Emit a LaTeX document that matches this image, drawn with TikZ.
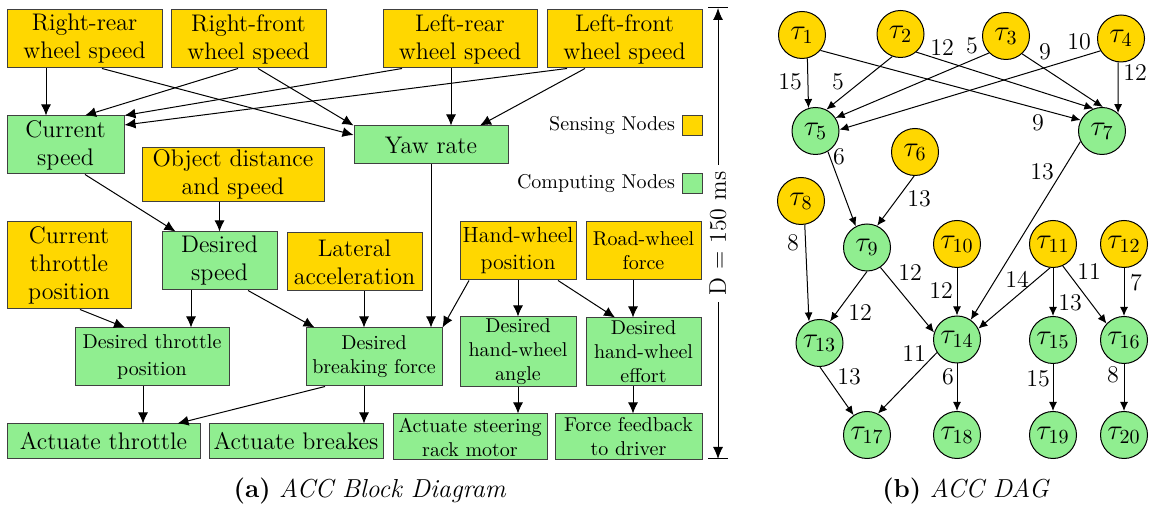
\documentclass[tikz,border=0pt]{standalone}
\usetikzlibrary{arrows.meta}
\definecolor{sensecol}{RGB}{255,215,0}
\definecolor{compcol}{RGB}{144,238,144}
\tikzset{
  blk/.style={draw=black!75,line width=0.5pt,align=center,inner sep=1pt,font=\large},
  sense/.style={blk,fill=sensecol},
  comp/.style={blk,fill=compcol},
  sm/.style={font=\normalsize},
  arr/.style={-{Latex[length=5.5pt,width=5pt]},line width=0.5pt},
  task/.style={circle,draw,line width=0.5pt,minimum size=23.5pt,inner sep=0pt,font=\Large},
  darr/.style={-{Latex[length=4.5pt,width=4pt]},line width=0.5pt},
  wlab/.style={font=\large,inner sep=0pt},
}
\begin{document}
\begin{tikzpicture}[x=0.5pt,y=-0.5pt]
\useasboundingbox (0,0) rectangle (1149,506);
% (a) block diagram
\node[sense,minimum width=77.5pt,minimum height=29pt] (rr) at (84.5,39) {Right-rear\\wheel speed};
\node[sense,minimum width=77.5pt,minimum height=29pt] (rf) at (248.5,39) {Right-front\\wheel speed};
\node[sense,minimum width=77pt,minimum height=29pt] (lr) at (460,39) {Left-rear\\wheel speed};
\node[sense,minimum width=77.5pt,minimum height=29pt] (lf) at (624.5,39) {Left-front\\wheel speed};
\node[comp,minimum width=58.5pt,minimum height=29pt] (cs) at (65.5,145) {Current\\speed};
\node[comp,minimum width=77pt,minimum height=19pt] (yaw) at (431,145) {Yaw rate};
\node[sense,minimum width=91pt,minimum height=26.5pt] (obj) at (233,174.5) {Object distance\\and speed};
\node[sense,minimum width=62pt,minimum height=43.5pt] (ctp) at (69,265.5) {Current\\throttle\\position};
\node[comp,minimum width=57.5pt,minimum height=29pt] (ds) at (219.5,261) {Desired\\speed};
\node[sense,minimum width=67.5pt,minimum height=29pt] (lat) at (354.5,262) {Lateral\\acceleration};
\node[sense,minimum width=58pt,minimum height=29pt,font=\fontsize{11}{13.5}\selectfont] (hwp) at (518,251) {Hand-wheel\\position};
\node[sense,sm,minimum width=57.5pt,minimum height=29pt] (rwf) at (643.5,251) {Road-wheel\\force};
\node[comp,minimum width=77pt,minimum height=29pt,font=\fontsize{10}{13.5}\selectfont] (dtp) at (152,357) {Desired throttle\\position};
\node[comp,sm,minimum width=68pt,minimum height=29pt] (dbf) at (374,357) {Desired\\breaking force};
\node[comp,sm,minimum width=58pt,minimum height=34pt] (dha) at (518,352) {Desired\\hand-wheel\\angle};
\node[comp,sm,minimum width=57.5pt,minimum height=34pt] (dhe) at (643.5,352) {Desired\\hand-wheel\\effort};
\node[comp,minimum width=96.5pt,minimum height=17.5pt] (at) at (103.5,441.5) {Actuate throttle};
\node[comp,minimum width=87pt,minimum height=17.5pt] (ab) at (296,441.5) {Actuate breakes};
\node[comp,sm,minimum width=77pt,minimum height=23pt] (asr) at (470,437) {Actuate steering\\rack motor};
\node[comp,sm,minimum width=73.5pt,minimum height=23pt] (ffd) at (628.5,437) {Force feedback\\to driver};

\draw[arr] ([xshift=-19.25pt]rr.south) -- ([xshift=-9.75pt]cs.north);
\draw[arr] ([xshift=8.75pt]rr.south) -- ([yshift=5pt]yaw.west);
\draw[arr] ([xshift=-5.25pt]rf.south) -- ([xshift=9.75pt]cs.north);
\draw[arr] ([xshift=4.75pt]rf.south) -- (yaw.north west);
\draw[arr] ([xshift=-29pt]lr.south) -- (cs.north east);
\draw[arr] ([xshift=-4.5pt]lr.south) -- ([xshift=10pt]yaw.north);
\draw[arr] ([xshift=-28.75pt]lf.south) -- ([yshift=10pt]cs.east);
\draw[arr] ([xshift=-19.75pt]lf.south) -- ([xshift=24.5pt]yaw.north);
\draw[arr] ([xshift=9.75pt]cs.south) -- ([xshift=7pt]ds.north west);
\draw[arr] (obj.south -| ds.north) -- (ds.north);
\draw[arr] ([xshift=5.5pt]ctp.south) -- ([xshift=-13.5pt]dtp.north);
\draw[arr] ([xshift=-14.25pt]ds.south) -- ([xshift=19.5pt]dtp.north);
\draw[arr] ([xshift=14.25pt]ds.south) -- ([xshift=4.5pt]dbf.north west);
\draw[arr] ([xshift=4.75pt]lat.south) -- ([xshift=-5pt]dbf.north);
\draw[arr] (yaw.south) -- (yaw.south |- dbf.north);
\draw[arr] ([xshift=-24.5pt]hwp.south) -- (dbf.north east);
\draw[arr] (hwp.south) -- (dha.north);
\draw[arr] ([xshift=20pt]hwp.south) -- ([xshift=-14.25pt]dhe.north);
\draw[arr] ([xshift=-5.25pt]rwf.south) -- ([xshift=-5.25pt]dhe.north);
\draw[arr] ([xshift=-4.5pt]dtp.south) -- ([xshift=19.75pt]at.north);
\draw[arr] ([xshift=-24.5pt]dbf.south) -- ([xshift=-11.5pt]at.north east);
\draw[arr] ([xshift=-5pt]dbf.south) -- ([xshift=34pt]ab.north);
\draw[arr] (dha.south) -- (dha.south |- asr.north);
\draw[arr] ([xshift=-5.25pt]dhe.south) -- ([xshift=2.25pt]ffd.north);

% legend
\node[draw=black!75,line width=0.5pt,fill=sensecol,minimum size=10pt,inner sep=0pt] (lsq1) at (692,126) {};
\node[draw=black!75,line width=0.5pt,fill=compcol,minimum size=10pt,inner sep=0pt] (lsq2) at (692,183.5) {};
\node[left] (ltx1) at (682,126) {Sensing Nodes};
\node[left] (ltx2) at (682,183.5) {Computing Nodes};

% deadline
\coordinate (dtop) at (718,8);
\coordinate (dbot) at (718,459);
\draw[{Latex[length=6pt,width=5pt]}-{Latex[length=6pt,width=5pt]},line width=0.5pt] (dtop) -- node[fill=white,rotate=90,font=\large] (dlab) {D = 150 ms} (dbot);
\draw[line width=0.5pt] ([xshift=-5pt]dtop) -- ([xshift=5pt]dtop);
\draw[line width=0.5pt] ([xshift=-5pt]dbot) -- ([xshift=5pt]dbot);

% (b) DAG
\foreach \n/\x/\y/\c in {1/802/35/sensecol,2/900.5/34/sensecol,3/1006/36/sensecol,4/1121/38.5/sensecol,
  5/815.5/131/compcol,6/915/152/sensecol,7/1102/131/compcol,8/801/201/sensecol,9/867/247.5/compcol,
  10/957/244/sensecol,11/1053/244/sensecol,12/1124/244/sensecol,13/819.5/343/compcol,14/957/339.5/compcol,
  15/1053/340/compcol,16/1124/340/compcol,17/867/435/compcol,18/957/435/compcol,19/1053/435/compcol,20/1124/435/compcol}{
  \node[task,fill=\c] (t\n) at (\x,\y) {$\tau_{\n}$};
}
\foreach \a/\b/\sa/\eb in {1/5/-77/107,2/5/-110/63,3/5/-135/33,4/5/-149/3,1/7/-40/153,2/7/-49/111,3/7/-48/88,4/7/-97/48,
  5/9/-59/118,6/9/-92/65,7/14/-154/55,8/13/-81/116,9/13/-90/64,9/14/-56/163,10/14/-90/90,11/14/-97/27,
  11/15/-90/90,11/16/-66/137,12/16/-90/90,13/17/-89/124,14/17/-147/63,14/18/-90/90,15/19/-90/90,16/20/-90/90}{
  \draw[darr] (t\a.\sa) -- (t\b.\eb);
}
\foreach \n/\x/\y/\w in {1/790/82/15,2/838/82/5,3/1038/123/9,4/942/48/12,5/972/46/5,6/1045/52/9,7/1079/42/10,
  8/1135/73/12,9/839/157/6,10/919/199/13,11/1042/172/13,12/793/243/8,13/860/313/12,14/910/273/12,15/941/291/12,
  16/1017/279/14,17/1070/303/13,18/1089/272/11,19/1136/283/7,20/849/377/13,21/914/354/11,22/948/377/6,
  23/1038/379/15,24/1113/375/8}{
  \node[wlab] (w\n) at (\x,\y) {\w};
}

% captions
\node[font=\fontsize{13}{15}\selectfont] (capa) at (370,491) {\textbf{(a)} \textit{ACC Block Diagram}};
\node[font=\fontsize{13}{15}\selectfont] (capb) at (966,491) {\textbf{(b)} \textit{ACC DAG}};
\end{tikzpicture}
\end{document}
